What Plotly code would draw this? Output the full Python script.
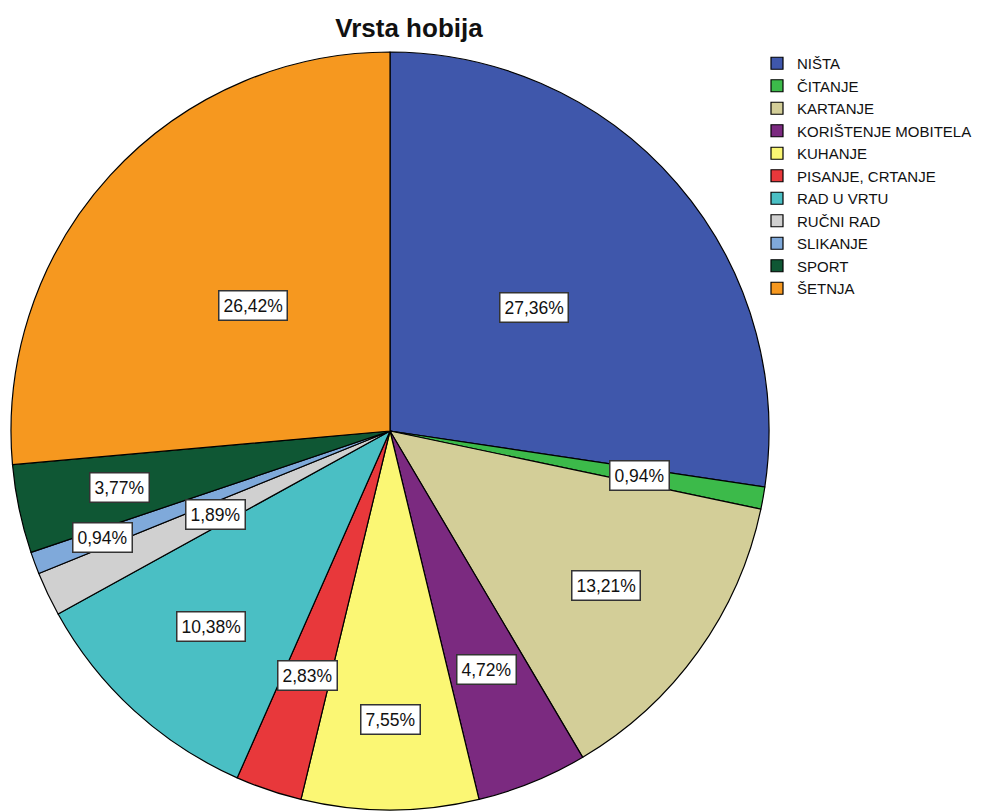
import numpy as np
import plotly.graph_objects as go

## Data
hobbies = ['NIŠTA', 'ČITANJE', 'KARTANJE', 'KORIŠTENJE MOBITELA', 'KUHANJE',
           'PISANJE, CRTANJE', 'RAD U VRTU', 'RUČNI RAD', 'SLIKANJE', 'SPORT', 'ŠETNJA']
counts = [29, 1, 14, 5, 8, 3, 11, 2, 1, 4, 28]
colors = ['#3F57AB', '#3CBA4A', '#D3CE98', '#7B2A80', '#FBF774', '#E8383B',
          '#4ABFC4', '#D0D0D0', '#7FA9DA', '#0F5734', '#F6981F']
## radial placement of the boxed labels (fraction of radius), as in the original
label_r = [0.50, 0.67, 0.70, 0.68, 0.76, 0.68, 0.70, 0.51, 0.81, 0.73, 0.49]

OFF = 8                      # body margin of the html page
W, H = 989 - OFF, 812 - OFF
cx_px, cy_px, r_px = 390 - OFF, 431 - OFF, 379   # pie centre / radius (figure px)

counts = np.asarray(counts, dtype=float)
share = counts / counts.sum()
pct_txt = [f'{p*100:.2f}%'.replace('.', ',') for p in share]

fig = go.Figure()
fig.add_trace(go.Pie(labels=hobbies, values=counts,
                     sort=False, direction='clockwise', rotation=0,
                     marker=dict(colors=colors, line=dict(color='#000000', width=1.2)),
                     textinfo='none', hoverinfo='label+percent',
                     domain=dict(x=[(cx_px - r_px)/W, (cx_px + r_px)/W],
                                 y=[1 - (cy_px + r_px)/H, 1 - (cy_px - r_px)/H])))

## Boxed percentage labels along mid-angle of each slice
mid = (np.cumsum(share) - share/2) * 2*np.pi
for ang, frac, t in zip(mid, label_r, pct_txt):
    fig.add_annotation(x=(cx_px + frac*r_px*np.sin(ang))/W,
                       y=1 - (cy_px - frac*r_px*np.cos(ang))/H,
                       xref='paper', yref='paper', xanchor='center', yanchor='middle',
                       text=t, showarrow=False,
                       font=dict(family='Liberation Sans, Arial', size=17.5, color='#111111'),
                       bgcolor='#ffffff', bordercolor='#333333', borderwidth=1.5, borderpad=4)

fig.update_layout(width=W, height=H,
                  margin=dict(l=0, r=0, t=0, b=0),
                  paper_bgcolor='#ffffff', plot_bgcolor='#ffffff',
                  title=dict(text='<b>Vrsta hobija</b>', x=(409 - OFF)/W, xanchor='center',
                             y=1 - (28 - OFF)/H, yanchor='middle',
                             font=dict(family='Liberation Sans, Arial', size=26, color='#111111')),
                  legend=dict(x=(757 - OFF)/W, y=1 - 39/H, xanchor='left', yanchor='top',
                              font=dict(family='Liberation Sans, Arial', size=15, color='#111111'),
                              tracegroupgap=0, itemclick=False),
                  showlegend=True)

fig.write_html('out.html')
